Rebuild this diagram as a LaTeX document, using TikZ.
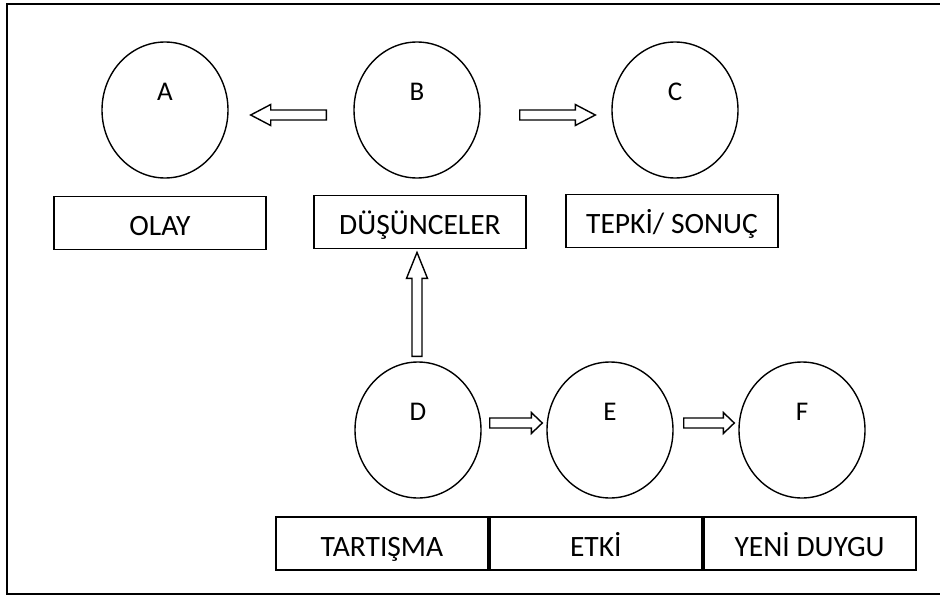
\documentclass[tikz,border=0pt]{standalone}
\usepackage{fontspec}
\setmainfont{Carlito}
\usetikzlibrary{positioning,calc,shapes.geometric}

% hollow block arrow: [head length]{tail}{tip}
\newcommand{\blockarrow}[3][19]{%
  \coordinate (neck) at ($(#3)!#1pt!(#2)$);
  \draw [arrowline] ($(#2)!5pt!90:(#3)$) -- ($(neck)!5pt!90:(#3)$)
    -- ($(neck)!10.5pt!90:(#3)$) -- (#3) -- ($(neck)!10.5pt!-90:(#3)$)
    -- ($(neck)!5pt!-90:(#3)$) -- ($(#2)!5pt!-90:(#3)$) -- cycle;}

\tikzset{
  bubble/.style={draw, ellipse, line width=1.4pt, minimum width=126pt, minimum height=136pt, inner sep=0pt},
  letter/.style={inner sep=0pt, font=\fontsize{27}{32}\selectfont},
  tag/.style={draw, line width=1.8pt, minimum width=212pt, minimum height=53pt, inner sep=0pt,
    text height=30pt, text depth=5pt, font=\fontsize{29.5}{34}\selectfont},
  arrowline/.style={line width=1.4pt, line join=miter, fill=white}
}

\begin{document}
\begin{tikzpicture}[x=1pt,y=-1pt]
  \useasboundingbox (0,0) rectangle (940,597);
  % frame
  \draw [line width=2.2pt] (945,4) -- (7,4) -- (7,594) -- (945,594);

  % upper row
  \node [bubble] (a) at (165,110) {};
  \node [bubble] (b) at (417,110) {};
  \node [bubble] (c) at (675,110) {};
  \node [letter] (la) at ($(a)+(0,-18)$) {A};
  \node [letter] (lb) at ($(b)+(0,-18)$) {B};
  \node [letter] (lc) at ($(c)+(0,-18)$) {C};
  \node [tag] (olay) at (160,223) {OLAY};
  \node [tag] (dus) at (420,222) {DÜŞÜNCELER};
  \node [tag] (tepki) at (672,221) {TEPKİ/ SONUÇ};

  % lower row
  \node [bubble] (d) at (418,430) {};
  \node [bubble] (e) at (610,430) {};
  \node [bubble] (f) at (802,430) {};
  \node [letter] (ld) at ($(d)+(0,-18)$) {D};
  \node [letter] (le) at ($(e)+(0,-18)$) {E};
  \node [letter] (lf) at ($(f)+(0,-18)$) {F};
  \node [tag] (tart) at (382,543.5) {TARTIŞMA};
  \node [tag, right=0pt of tart] (etki) {ETKİ};
  \node [tag, right=0pt of etki] (yeni) {YENİ DUYGU};

  % arrows
  \coordinate (ba1) at ($(b.west)+(-27,5)$);
  \coordinate (ba2) at ($(a.east)+(22,5)$);
  \blockarrow[20]{ba1}{ba2}
  \coordinate (bc1) at ($(b.east)+(39,5)$);
  \coordinate (bc2) at ($(c.west)+(-16,5)$);
  \blockarrow[20]{bc1}{bc2}
  \coordinate (db1) at ($(d.north)+(-1,-5)$);
  \coordinate (db2) at ($(d.north |- dus.south)+(-1,3)$);
  \blockarrow[26]{db1}{db2}
  \coordinate (de1) at ($(d.east)+(8,-7)$);
  \coordinate (de2) at ($(e.west)+(-4,-7)$);
  \blockarrow[11]{de1}{de2}
  \coordinate (ef1) at ($(e.east)+(10,-7)$);
  \coordinate (ef2) at ($(f.west)+(-4,-7)$);
  \blockarrow[11]{ef1}{ef2}
\end{tikzpicture}
\end{document}
